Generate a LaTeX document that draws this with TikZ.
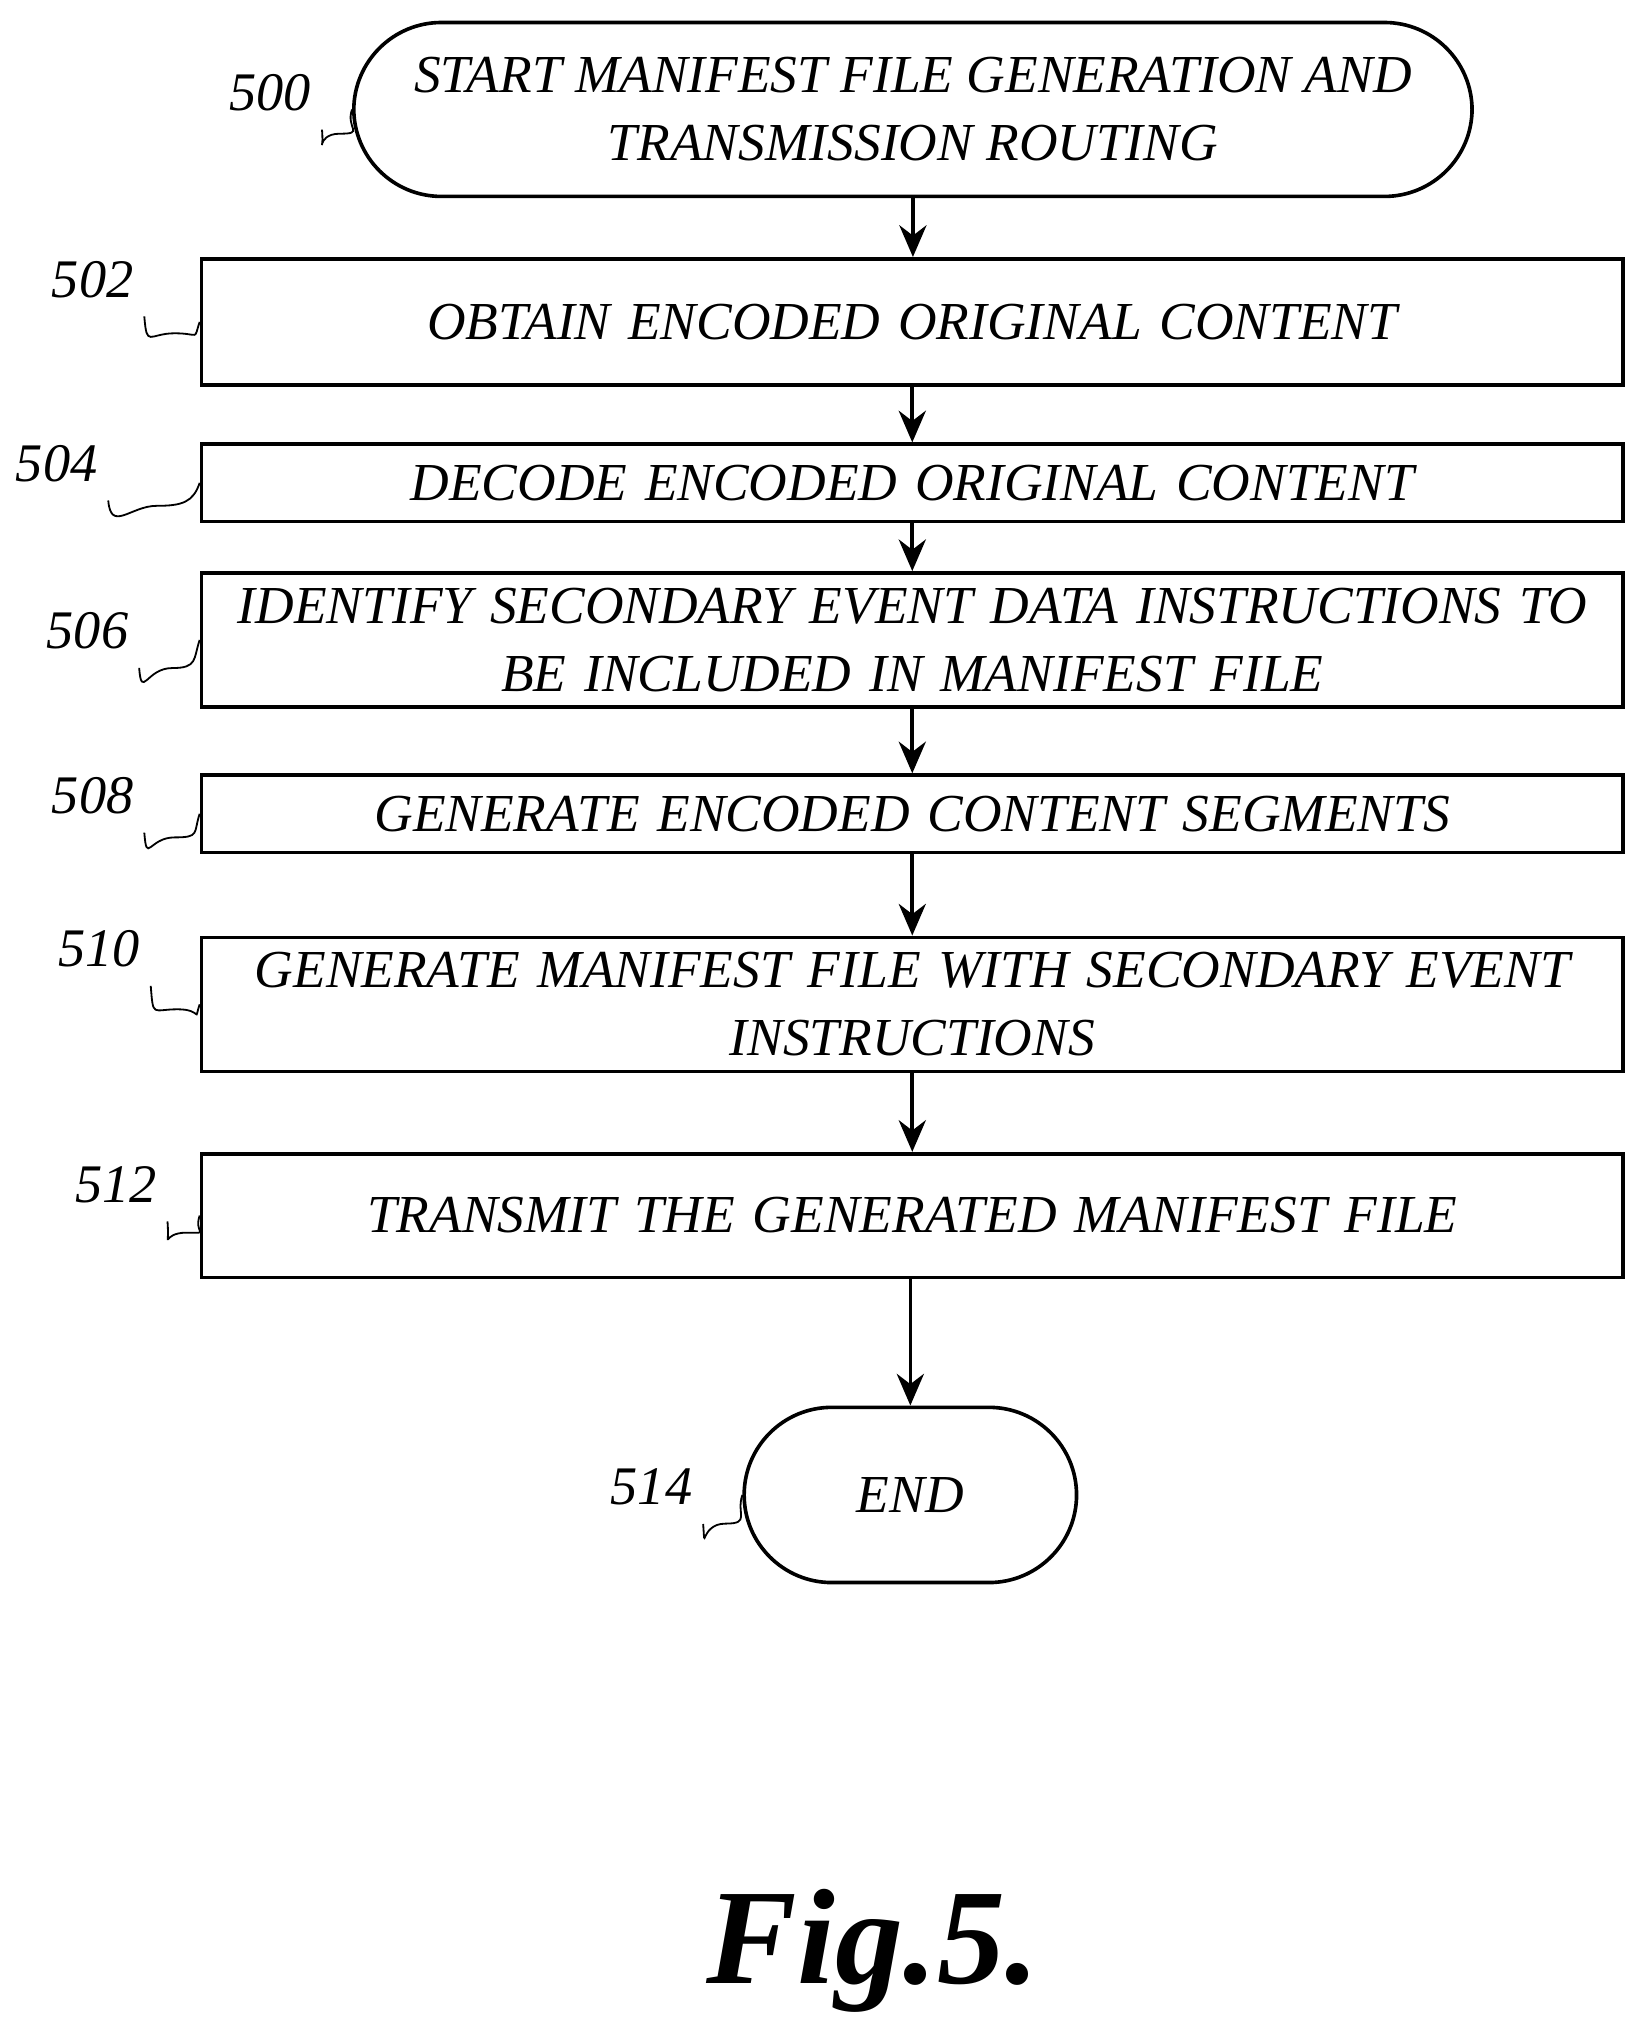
\documentclass[tikz,border=0pt]{standalone}
\usepackage{fontspec}
\setmainfont{Liberation Serif}
\usetikzlibrary{arrows.meta, positioning, calc}
\begin{document}
\begin{tikzpicture}[x=0.01cm, y=-0.01cm]
    % Styles
    \tikzstyle{terminal} = [rectangle, rounded corners=0.68cm, draw, thick, align=center, font=\fontsize{11.8}{15}\selectfont\itshape]
    \tikzstyle{process} = [rectangle, draw, thick, minimum width=10.97cm, text width=10.8cm, align=center, font=\fontsize{11.8}{15}\selectfont\itshape]
    \tikzstyle{ref} = [font=\fontsize{12}{14}\selectfont\itshape]
    \tikzstyle{arrow} = [thick,-{Stealth[length=7pt,width=6pt]}]
    \tikzstyle{squiggle} = [thin]

    \useasboundingbox (0,0) rectangle (1280,1575);

    % Nodes - using absolute positioning
    \node[terminal, minimum width=8.68cm, minimum height=1.35cm] (start) at (709,85) {START MANIFEST FILE GENERATION AND\\TRANSMISSION ROUTING};
    \node[process, minimum height=0.98cm] (step502) at (708.5,250) {OBTAIN ENCODED ORIGINAL CONTENT};
    \node[process, minimum height=0.60cm] (step504) at (708.5,375) {DECODE ENCODED ORIGINAL CONTENT};
    \node[process, minimum height=0.97cm] (step506) at (708.5,497) {IDENTIFY SECONDARY EVENT DATA INSTRUCTIONS TO\\BE INCLUDED IN MANIFEST FILE};
    \node[process, minimum height=0.60cm] (step508) at (708.5,632) {GENERATE ENCODED CONTENT SEGMENTS};
    \node[process, minimum height=0.99cm] (step510) at (708.5,780) {GENERATE MANIFEST FILE WITH SECONDARY EVENT\\INSTRUCTIONS};
    \node[process, minimum height=0.96cm] (step512) at (708.5,944) {TRANSMIT THE GENERATED MANIFEST FILE};
    \node[terminal, minimum width=2.58cm, minimum height=1.36cm] (end) at (707,1161) {END};

    % Reference numerals
    \node[ref] (r500) at (210,72) {500};
    \node[ref] (r502) at (72,217) {502};
    \node[ref] (r504) at (44,360) {504};
    \node[ref] (r506) at (68,490) {506};
    \node[ref] (r508) at (72,618) {508};
    \node[ref] (r510) at (77,737) {510};
    \node[ref] (r512) at (90,920) {512};
    \node[ref] (r514) at (506,1155) {514};

    % Squiggles
    \foreach \r/\s in {r500/start, r502/step502, r504/step504, r506/step506, r508/step508, r510/step510, r512/step512, r514/end}
        \draw[squiggle] ($(\r.south east)+(-4,2)$) .. controls +(2,25) and +(-20,0) .. ($($(\r.south east)!0.5!(\s.west)$)+(0,12)$) .. controls +(20,0) and +(-5,15) .. (\s.west);

    % Arrows
    \draw[arrow] (start) -- (start |- step502.north);
    \draw[arrow] (step502) -- (step504);
    \draw[arrow] (step504) -- (step506);
    \draw[arrow] (step506) -- (step508);
    \draw[arrow] (step508) -- (step510);
    \draw[arrow] (step510) -- (step512);
    \draw[arrow] (step512.south -| end) -- (end);

    % Caption
    \node[font=\fontsize{30}{34}\selectfont\bfseries\itshape] (caption) at (678,1515) {Fig.5.};
\end{tikzpicture}
\end{document}
